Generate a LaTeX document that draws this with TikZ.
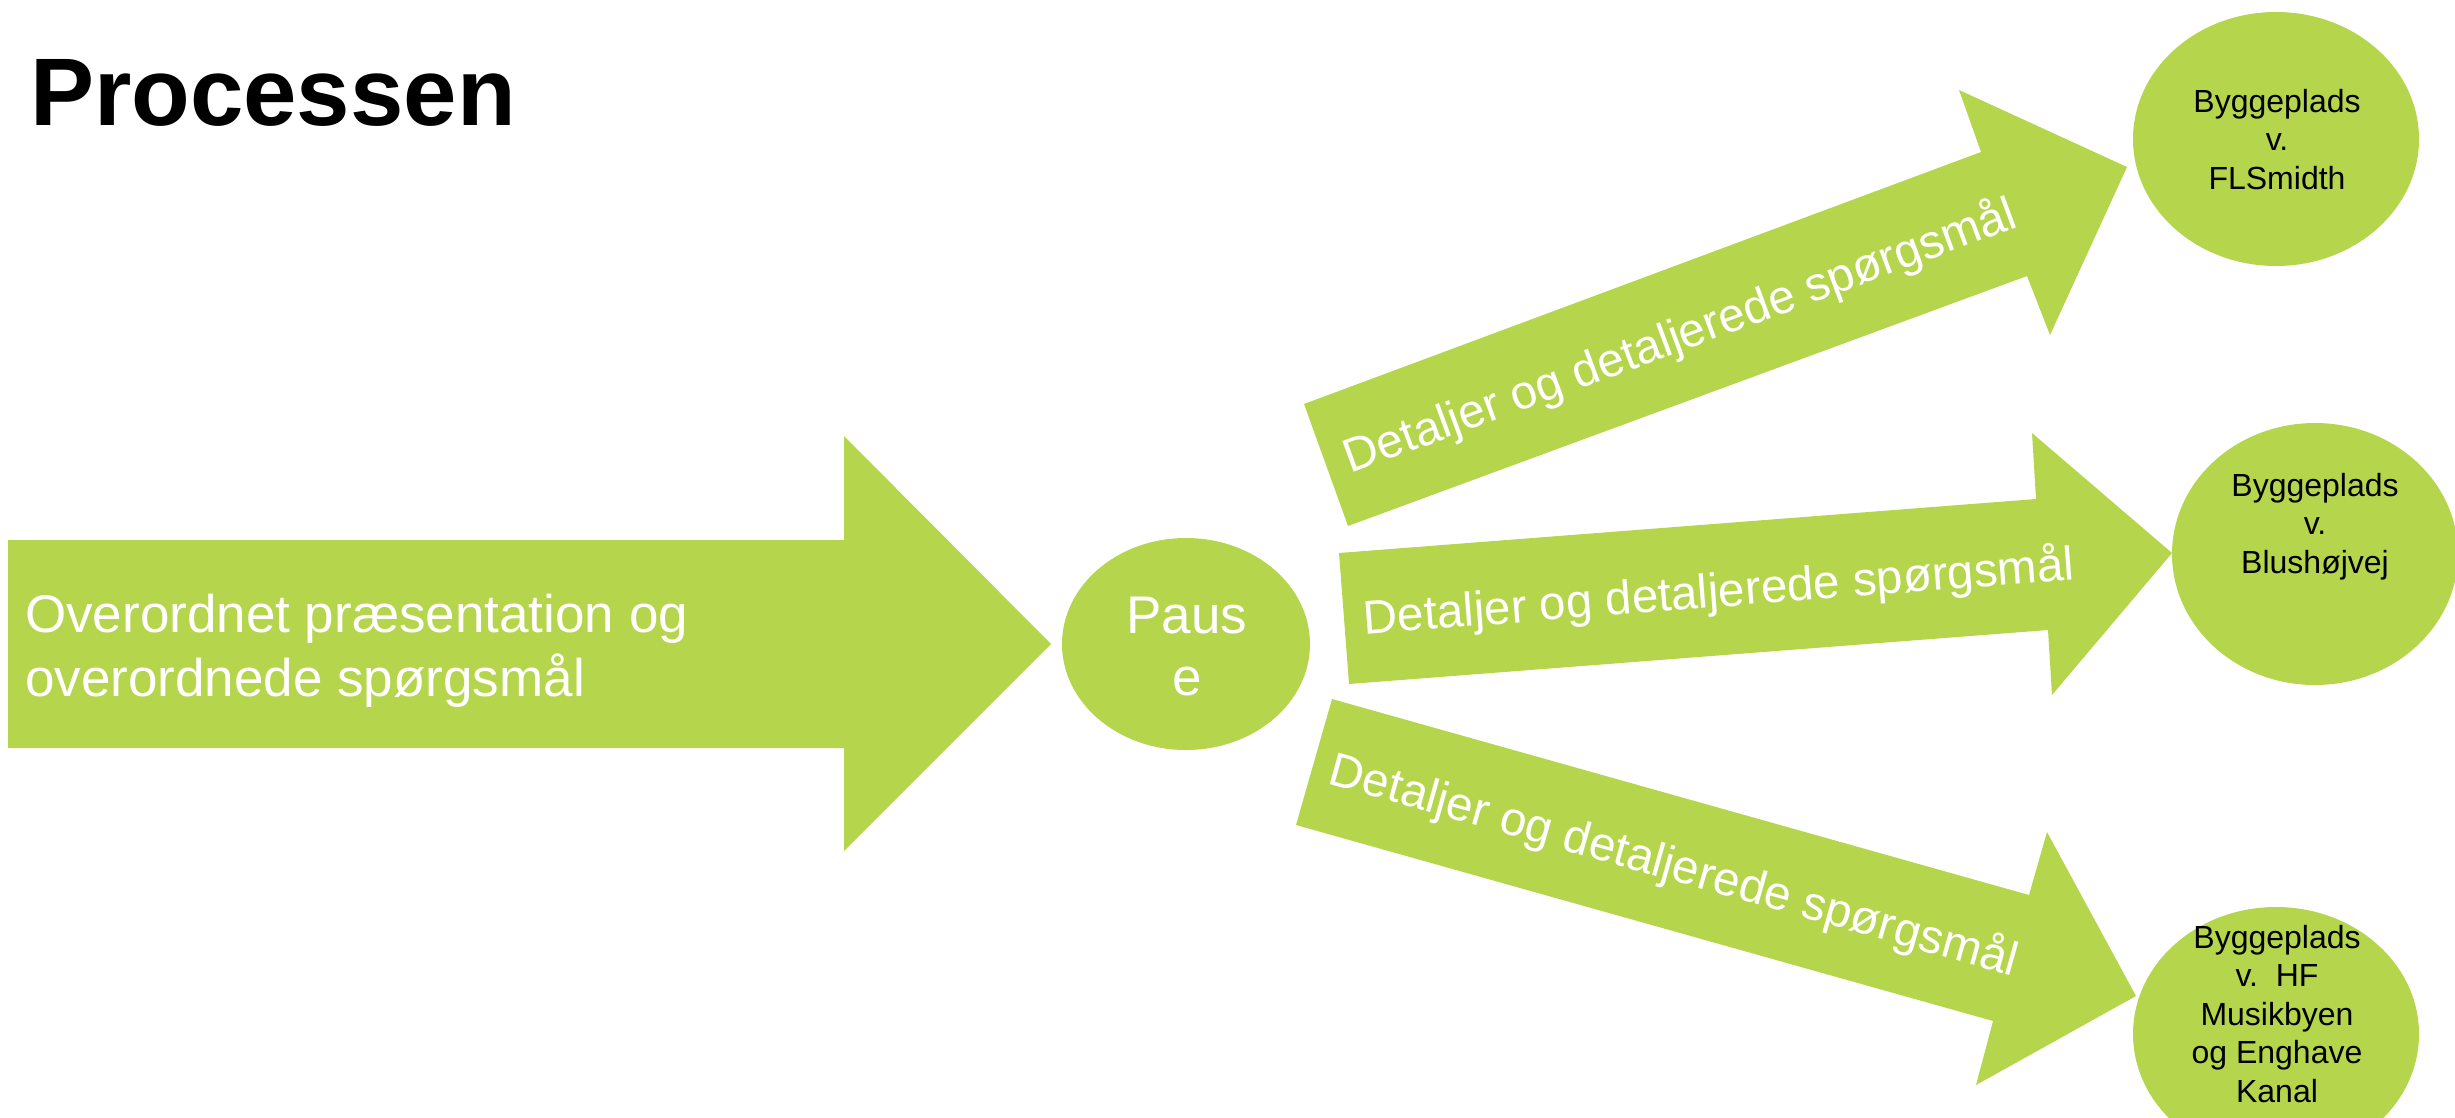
\documentclass[tikz,border=0pt]{standalone}
\usepackage{fontspec}
\setmainfont{Liberation Sans}
\usetikzlibrary{shapes.geometric}
\definecolor{leaf}{RGB}{181,214,76}
\tikzset{
  blob/.style={ellipse, fill=leaf, draw=none, inner sep=0pt},
  arrowshape/.style={fill=leaf, draw=none},
  whitetxt/.style={text=white, inner sep=0pt, font=\fontsize{53}{64}\selectfont},
  arrowtxt/.style={text=white, inner sep=0pt, anchor=base, font=\fontsize{47.5}{57}\selectfont},
  sitetxt/.style={text=black, inner sep=0pt, anchor=base, align=center, font=\fontsize{32}{38.5}\selectfont},
}
\begin{document}
\begin{tikzpicture}[x=1pt,y=-1pt]
\useasboundingbox (0,0) rectangle (2455,1117);
% title
\node[anchor=base west, inner sep=0pt, font=\fontsize{96}{110}\selectfont\bfseries] (title) at (30,125) {Processen};
% big arrow
\fill[arrowshape] (8,540) -- (844,540) -- (844,436) -- (1051,644) -- (844,851) -- (844,748) -- (8,748) -- cycle;
\node[whitetxt, anchor=base west, align=left] (main) at (25,696) {Overordnet præsentation og\\overordnede spørgsmål};
% pause
\node[blob, minimum width=248pt, minimum height=212pt] (pause) at (1186,644) {};
\node[whitetxt, anchor=base, align=center, font=\fontsize{53}{62}\selectfont] (pausetxt) at (1187,695) {Paus\\e};
% three arrows
\fill[arrowshape] (1304,404) -- (1981,152) -- (1959,90) -- (2127,167) -- (2050,335) -- (2027,276) -- (1348,526) -- cycle;
\fill[arrowshape] (1339,553) -- (2036,499) -- (2032,433) -- (2172,553) -- (2052,695) -- (2048,630) -- (1349,684) -- cycle;
\fill[arrowshape] (1332,699) -- (2029,895) -- (2047,832) -- (2136,996) -- (1976,1085) -- (1993,1021) -- (1296,825) -- cycle;
\node[arrowtxt, rotate=20.3] (t1) at (1685,350) {Detaljer og detaljerede spørgsmål};
\node[arrowtxt, rotate=4.4] (t2) at (1720,607) {Detaljer og detaljerede spørgsmål};
\node[arrowtxt, rotate=-15.7] (t3) at (1670,880) {Detaljer og detaljerede spørgsmål};
% sites
\node[blob, minimum width=286pt, minimum height=254pt] (c1) at (2276,139) {};
\node[blob, minimum width=286pt, minimum height=262pt] (c2) at (2315,554) {};
\node[blob, minimum width=286pt, minimum height=254pt] (c3) at (2276,1034) {};
\node[sitetxt] (c1txt) at (2277,189) {Byggeplads\\v.\\FLSmidth};
\node[sitetxt] (c2txt) at (2315,573) {Byggeplads\\v.\\Blushøjvej};
\node[sitetxt] (c3txt) at (2277,1102) {Byggeplads\\v.\ \ HF\\Musikbyen\\og Enghave\\Kanal};
\end{tikzpicture}
\end{document}
